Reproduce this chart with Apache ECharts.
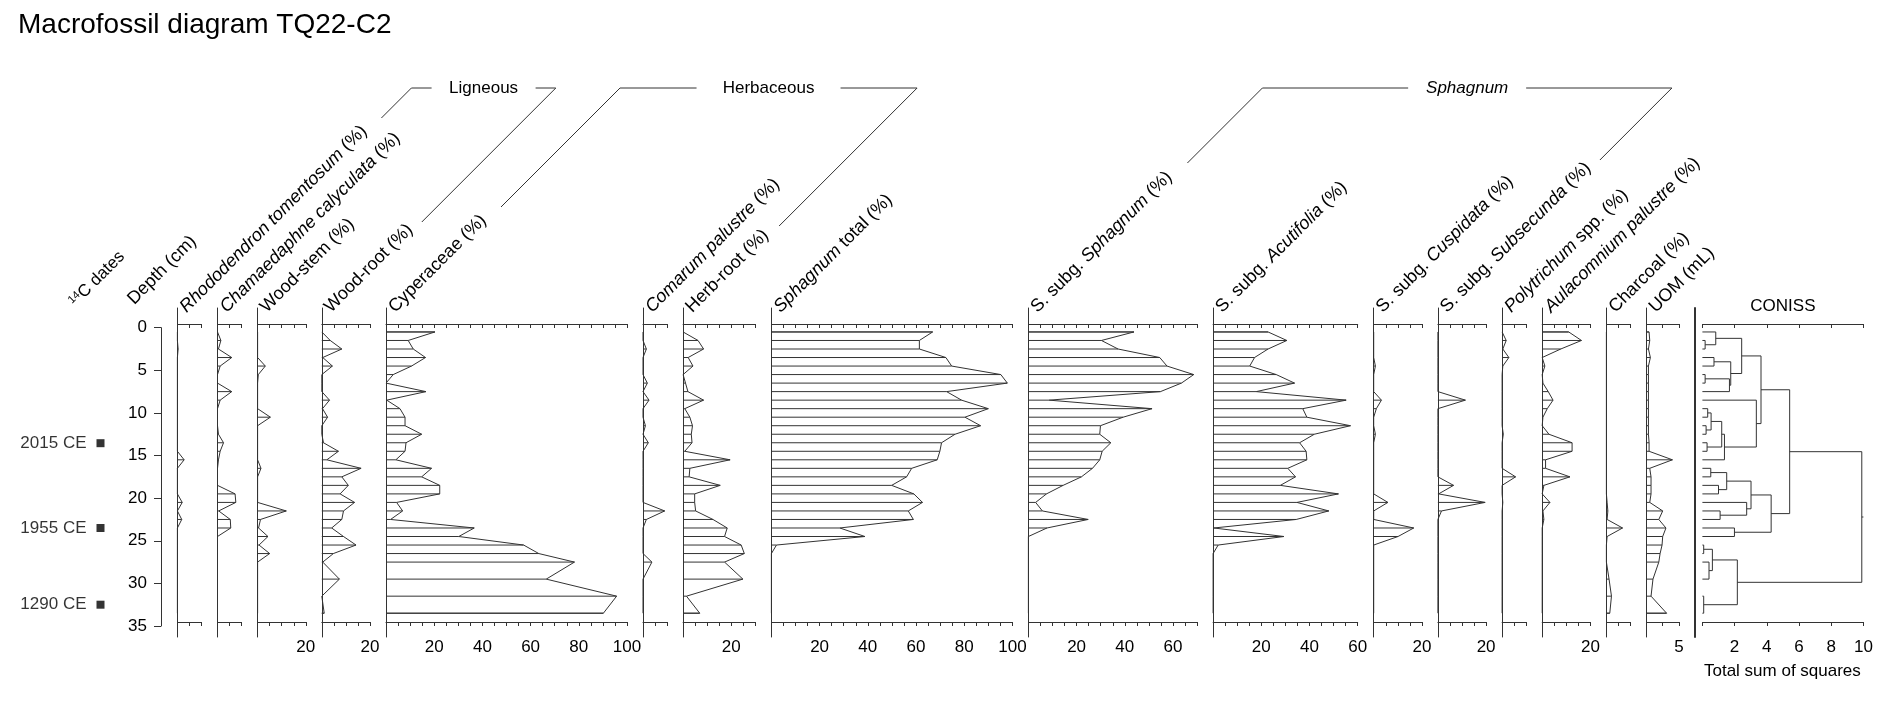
<!DOCTYPE html>
<html>
<head>
<meta charset="utf-8">
<script src="https://cdn.jsdelivr.net/npm/echarts@6/dist/echarts.min.js"></script>
<style>
  html, body { margin: 0; padding: 0; background: #fff; }
  #chart { width: 1892px; height: 702px; }
</style>
</head>
<body>
<div id="chart"></div>
<script>
// sample depths (cm)
const depths = [0.5, 1.5, 2.5, 3.5, 4.5, 5.5, 6.5, 7.5, 8.5, 9.5, 10.5, 11.5, 12.5, 13.5, 14.5,
  15.5, 16.5, 17.5, 18.5, 19.5, 20.5, 21.5, 22.5, 23.5, 24.5, 25.5, 26.5, 27.5, 29.5, 31.5, 33.5];

const rhododendron = [0, 0, 0.3, 0, 0, 0, 0, 0, 0, 0, 0, 0, 0, 0, 0, 2.8, 0, 0, 0, 0, 2, 0, 1.8, 0, 0, 0, 0, 0, 0, 0, 0];
const chamaedaphne = [0, 1.4, 0.4, 5.9, 1.1, 0, 0, 5.9, 1.1, 0, 0, 0, 0.4, 2.5, 1.1, 0.4, 0, 0, 0, 7.3, 7.6, 0.5, 5.3, 5.5, 0, 0, 0, 0, 0, 0, 0];
const woodStem = [0, 0, 0, 0, 3.2, 0.3, 0, 0, 0, 0, 5.3, 0, 0, 0, 0, 0, 1.4, 0, 0, 0, 0, 11.9, 1.2, 0.4, 4.3, 0.6, 5, 0, 0, 0, 0];
const woodRoot = [0, 3.5, 8.3, 0.4, 4.4, 0, 0, 0, 3.2, 0.3, 2.4, 0, 0, 0.7, 6.9, 2.1, 16.3, 8.3, 11, 7.6, 13.6, 9, 8.3, 4.1, 9, 14.2, 4.8, 0.4, 7.3, 0, 1];
const cyperaceae = [20.3, 9.2, 11.3, 16.4, 10.6, 3, 0, 16.6, 0.3, 5.8, 7.9, 7.9, 14.8, 8.3, 7.9, 4.1, 18.9, 14.8, 22.3, 22.3, 4.4, 6.9, 1.9, 36.6, 30.2, 57.1, 63.4, 78.2, 66.5, 95.7, 90.2];
const comarum = [0, 0, 1.4, 0, 0, 0, 1.8, 0, 2.5, 0, 0, 1, 0, 2.2, 0, 0, 0, 0, 0, 0, 0, 9, 1.4, 0, 0, 0, 0, 3.7, 0, 0, 0];
const herbRoot = [0, 6.2, 8.5, 2.1, 4.1, 0, 1, 2, 8.5, 0.7, 2.8, 3.9, 3.4, 3.7, 0.7, 19.5, 2.8, 2.5, 15.4, 4.8, 4.8, 5.2, 12.4, 18.3, 17.2, 24.1, 25.4, 17.2, 24.8, 1.4, 6.9];
const sphagnumTotal = [66.9, 61.4, 61.4, 72.4, 74.8, 95.2, 97.9, 72.7, 78.9, 90, 80.3, 86.8, 76.2, 70.6, 69.9, 68.8, 58.2, 56.1, 49.9, 59.1, 62.7, 56.8, 58.9, 28.4, 38.8, 2.1, 0, 0, 0, 0, 0];
const subgSphagnum = [43.8, 30.3, 37.2, 54.5, 57.5, 68.6, 63.5, 54.8, 8.6, 51.3, 39.3, 29.9, 29.6, 34.2, 30.6, 29.6, 26.6, 22, 14.4, 7.5, 3, 5.8, 24.8, 7.7, 0, 0, 0, 0, 0, 0, 0];
const acutifolia = [22.8, 30.6, 22.8, 17.2, 15.2, 26.2, 33.8, 17.9, 55.2, 37.2, 38.9, 57, 42, 35.9, 38.6, 38.9, 31, 34.2, 27.9, 52, 34.8, 48, 34.5, 0.3, 29.4, 2.1, 0, 0, 0, 0, 0];
const cuspidata = [0, 0, 0, 0, 0.7, 0, 0, 0, 3.2, 1.1, 0, 0, 0.7, 0, 0, 0, 0, 0, 0, 0, 5.9, 0, 0, 16.6, 10.1, 0, 0, 0, 0, 0, 0];
const subsecunda = [0, 0, 0, 0, 0, 0, 0, 0, 11.4, 0, 0, 0, 0, 0, 0, 0, 0, 0, 6.5, 0.3, 19.6, 1.5, 0, 0, 0, 0, 0, 0, 0, 0, 0];
const polytrichum = [0, 1.7, 0.3, 2.8, 0.3, 0, 0, 0, 0, 0, 0, 0, 0.5, 0, 0, 0, 0, 5.6, 0, 0, 0.3, 0, 0, 0, 0, 0, 0, 0, 0, 0, 0];
const aulacomnium = [11, 16.3, 7.7, 0, 1.1, 0, 0.3, 2.5, 4.5, 2.1, 0.3, 0, 2.8, 12.4, 12.4, 1.4, 1.4, 11.5, 0.7, 0, 3.2, 0.3, 0.7, 0, 0, 0, 0, 0, 0, 0, 0];
const charcoal = [0, 0, 0, 0, 0, 0, 0, 0, 0, 0, 0, 0, 0, 0, 0, 0, 0, 0, 0, 0, 0.3, 0.6, 0.3, 6.7, 0.3, 0, 0, 0, 1.1, 2.1, 1.4];
const uom = [0.4, 0.5, 0.3, 0.6, 0.3, 0.3, 0.3, 0.3, 0.3, 0.3, 0.3, 0.3, 0.3, 0.4, 0.4, 4.0, 0.5, 0.7, 0.7, 0.7, 0.5, 2.5, 1.9, 3.0, 2.5, 2.4, 2.1, 1.9, 1.0, 0.7, 3.1];

// radiocarbon dates
const dateDepths = [13.55, 23.5, 32.5];
const dateLabels = ['2015 CE', '1955 CE', '1290 CE'];

// CONISS merges (hclust style: negative = sample number, positive = earlier merge row), height
const conissMerge = [
  [-26, -27, 0.08], [-30, -31, 0.08], [-2, -3, 0.17], [-6, -7, 0.17], [-12, -13, 0.23],
  [-14, -15, 0.29], [-10, -11, 0.33], [-28, -29, 0.41], [-17, -18, 0.52], [7, 5, 0.54],
  [1, 8, 0.62], [-4, -5, 0.72], [-1, 3, 0.83], [-19, -20, 1.0], [-22, -23, 1.1],
  [10, 6, 1.2], [16, -16, 1.37], [9, 14, 1.51], [4, -8, 1.68], [12, 19, 1.76],
  [-24, -25, 1.99], [11, 2, 2.17], [13, 20, 2.44], [-21, 15, 2.75], [18, 24, 3.02],
  [-9, 17, 3.35], [23, 26, 3.64], [25, 21, 4.27], [27, 28, 5.42], [29, 22, 9.9]
];

const panels = [
  { label: '{i|Rhododendron tomentosum} (%)', values: rhododendron, max: 10, tick: 5 },
  { label: '{i|Chamaedaphne calyculata} (%)', values: chamaedaphne, max: 10, tick: 5 },
  { label: 'Wood-stem (%)', values: woodStem, max: 20, tick: 5 },
  { label: 'Wood-root (%)', values: woodRoot, max: 20, tick: 5 },
  { label: 'Cyperaceae (%)', values: cyperaceae, max: 100, tick: 5 },
  { label: '{i|Comarum palustre} (%)', values: comarum, max: 10, tick: 5 },
  { label: 'Herb-root (%)', values: herbRoot, max: 30, tick: 5 },
  { label: '{i|Sphagnum} total (%)', values: sphagnumTotal, max: 100, tick: 5 },
  { label: 'S. subg. {i|Sphagnum} (%)', values: subgSphagnum, max: 70, tick: 5 },
  { label: 'S. subg. {i|Acutifolia} (%)', values: acutifolia, max: 60, tick: 5 },
  { label: 'S. subg. {i|Cuspidata} (%)', values: cuspidata, max: 20, tick: 5 },
  { label: 'S. subg. {i|Subsecunda} (%)', values: subsecunda, max: 20, tick: 5 },
  { label: '{i|Polytrichum} spp. (%)', values: polytrichum, max: 10, tick: 5 },
  { label: '{i|Aulacomnium palustre} (%)', values: aulacomnium, max: 20, tick: 5 },
  { label: 'Charcoal (%)', values: charcoal, max: 10, tick: 5 },
  { label: 'UOM (mL)', values: uom, max: 5, tick: 2.5, px: 32.4 }
];

const groups = [
  { text: 'Ligneous', first: 0, last: 3, legLeft: 118, legRight: 222, half: 36 },
  { text: 'Herbaceous', first: 4, last: 6, legLeft: 207, legRight: 226, half: 56 },
  { text: '{i|Sphagnum}', first: 8, last: 11, legLeft: 163, legRight: 160, half: 43 }
];

// ---- layout ----
const FONT = '"Liberation Sans", Arial, sans-serif';
const INK = '#333';
const TOP = 308, H = 329;
const DEPTH0_Y = 327.7, PX_CM = 298.3 / 35;
const yMin = -(DEPTH0_Y - TOP) / PX_CM;
const yMax = yMin + H / PX_CM;
const PX_PCT = 2.41, GAP = 16;

let cursor = 177.4;
panels.forEach(p => {
  p.left = cursor;
  p.width = p.px || p.max * PX_PCT;
  cursor += p.width + GAP;
});
const sepX = cursor;
const conissLeft = sepX + 7.5;

const grid = [], xAxis = [], yAxis = [], series = [], graphic = [];
const hidden = { show: false };

function panelAxes(gi, max, tick, fmt) {
  xAxis.push({
    gridIndex: gi, type: 'value', position: 'top', offset: -16, min: 0, max: max, interval: tick,
    axisLine: { show: true, onZero: false, lineStyle: { color: INK } },
    axisTick: { show: true, inside: true, length: 4, lineStyle: { color: INK } },
    axisLabel: hidden, splitLine: hidden
  });
  xAxis.push({
    gridIndex: gi, type: 'value', position: 'bottom', offset: -15, min: 0, max: max, interval: tick,
    axisLine: { show: true, onZero: false, lineStyle: { color: INK } },
    axisTick: { show: true, length: 4, lineStyle: { color: INK } },
    axisLabel: { fontSize: 17, fontFamily: FONT, color: '#000', margin: 17, formatter: fmt },
    splitLine: hidden
  });
}

// depth axis
let gi = 0;
grid.push({ left: 161, top: DEPTH0_Y, width: 1, height: 35 * PX_CM });
xAxis.push({ gridIndex: gi, type: 'value', show: false, min: 0, max: 1 });
yAxis.push({
  gridIndex: gi, type: 'value', inverse: true, min: 0, max: 35, interval: 5,
  axisLine: { show: true, onZero: false, lineStyle: { color: INK } },
  axisTick: { show: true, length: 7, lineStyle: { color: INK } },
  axisLabel: { fontSize: 17, fontFamily: FONT, color: '#000', margin: 14 },
  splitLine: hidden
});

// dates
gi = 1;
grid.push({ left: 96.5, top: DEPTH0_Y, width: 8, height: 35 * PX_CM });
xAxis.push({ gridIndex: gi, type: 'value', show: false, min: 0, max: 1 });
yAxis.push({ gridIndex: gi, type: 'value', show: false, inverse: true, min: 0, max: 35 });
series.push({
  type: 'scatter', xAxisIndex: 1, yAxisIndex: 1, symbol: 'rect', symbolSize: 8,
  itemStyle: { color: '#000' }, silent: true,
  data: dateDepths.map(d => [0.5, d]),
  label: {
    show: true, position: 'left', distance: 10, color: '#000', fontSize: 17, fontFamily: FONT,
    formatter: p => dateLabels[p.dataIndex]
  }
});

const pctFmt = v => (v > 0 && v % 20 === 0) ? String(v) : '';

panels.forEach((p, k) => {
  const g = grid.length;
  grid.push({ left: p.left, top: TOP, width: p.width, height: H });
  yAxis.push({
    gridIndex: g, type: 'value', inverse: true, min: yMin, max: yMax,
    axisLine: { show: true, onZero: false, lineStyle: { color: INK } },
    axisTick: hidden, axisLabel: hidden, splitLine: hidden
  });
  const xi = xAxis.length;
  panelAxes(g, p.max, p.tick, p.max === 5 ? (v => v === 5 ? '5' : '') : pctFmt);
  const pts = p.values.map((v, j) => [v, depths[j]]);
  series.push({
    type: 'line', xAxisIndex: xi + 1, yAxisIndex: g, symbol: 'none', silent: true,
    lineStyle: { color: INK, width: 1 },
    data: [[0, depths[0]]].concat(pts, [[0, depths[depths.length - 1]]])
  });
  series.push({
    type: 'custom', xAxisIndex: xi + 1, yAxisIndex: g, silent: true,
    data: pts, encode: { x: 0, y: 1 },
    renderItem: (params, api) => {
      const a = api.coord([0, api.value(1)]);
      const b = api.coord([api.value(0), api.value(1)]);
      return {
        type: 'line',
        shape: { x1: a[0], y1: a[1], x2: b[0], y2: b[1] },
        style: { stroke: INK, lineWidth: 1 }
      };
    }
  });
  graphic.push({
    type: 'text', x: p.left + 12, y: 316, rotation: Math.PI / 4, silent: true,
    style: {
      text: p.label, fontSize: 18, fontFamily: FONT, fill: '#000',
      align: 'left', verticalAlign: 'bottom',
      rich: { i: { fontStyle: 'italic', fontSize: 18, fontFamily: FONT } }
    }
  });
});

// CONISS
const cg = grid.length;
grid.push({ left: conissLeft, top: TOP, width: 161, height: H });
yAxis.push({
  gridIndex: cg, type: 'value', inverse: true, min: yMin, max: yMax, offset: conissLeft - sepX,
  axisLine: { show: true, onZero: false, lineStyle: { color: INK, width: 2 } },
  axisTick: hidden, axisLabel: hidden, splitLine: hidden
});
const cx = xAxis.length;
panelAxes(cg, 10, 2, v => v > 0 ? String(v) : '');

const nodeY = [];
const segs = [];
function nodePos(id) {
  return id < 0 ? [0, depths[-id - 1]] : [conissMerge[id - 1][2], nodeY[id - 1]];
}
conissMerge.forEach((m, k) => {
  const a = nodePos(m[0]), b = nodePos(m[1]);
  nodeY[k] = (a[1] + b[1]) / 2;
  segs.push({ coords: [a, [m[2], a[1]], [m[2], b[1]], b] });
});
const root = conissMerge.length - 1;
segs.push({ coords: [[conissMerge[root][2], nodeY[root]], [10, nodeY[root]]] });
series.push({
  type: 'lines', coordinateSystem: 'cartesian2d', xAxisIndex: cx + 1, yAxisIndex: cg,
  polyline: true, silent: true, lineStyle: { color: INK, width: 1, opacity: 1 },
  data: segs
});

// ---- texts ----
graphic.push({
  type: 'text', x: 18, y: 25.5, silent: true,
  style: { text: 'Macrofossil diagram TQ22-C2', fontSize: 28, fontFamily: FONT, fill: '#000', verticalAlign: 'middle' }
});
graphic.push({
  type: 'text', x: 78, y: 310, rotation: Math.PI / 4, silent: true,
  style: {
    text: '{sup|14}C dates', fontSize: 17, fontFamily: FONT, fill: '#000', verticalAlign: 'bottom',
    rich: { sup: { fontSize: 11, fontFamily: FONT, verticalAlign: 'top' } }
  }
});
graphic.push({
  type: 'text', x: 137, y: 308, rotation: Math.PI / 4, silent: true,
  style: { text: 'Depth (cm)', fontSize: 18, fontFamily: FONT, fill: '#000', verticalAlign: 'bottom' }
});
graphic.push({
  type: 'text', x: conissLeft + 80.5, y: 306, silent: true,
  style: { text: 'CONISS', fontSize: 17, fontFamily: FONT, fill: '#000', align: 'center', verticalAlign: 'middle' }
});
graphic.push({
  type: 'text', x: conissLeft + 80, y: 671, silent: true,
  style: { text: 'Total sum of squares', fontSize: 17, fontFamily: FONT, fill: '#000', align: 'center', verticalAlign: 'middle' }
});

// group brackets, legs run along the 45 degree label lines
const HY = 88;
const along = (k, y) => panels[k].left + 14 + (308 - y);
groups.forEach(g => {
  const xl = along(g.first, HY), xr = along(g.last, HY);
  const mid = (xl + xr) / 2;
  graphic.push({
    type: 'polyline', silent: true,
    shape: { points: [[along(g.first, g.legLeft), g.legLeft], [xl, HY], [mid - g.half - 16, HY]] },
    style: { stroke: INK, lineWidth: 1, fill: null }
  });
  graphic.push({
    type: 'polyline', silent: true,
    shape: { points: [[mid + g.half + 16, HY], [xr, HY], [along(g.last, g.legRight), g.legRight]] },
    style: { stroke: INK, lineWidth: 1, fill: null }
  });
  graphic.push({
    type: 'text', x: mid, y: HY, silent: true,
    style: {
      text: g.text, fontSize: 17, fontFamily: FONT, fill: '#000', align: 'center', verticalAlign: 'middle',
      rich: { i: { fontStyle: 'italic', fontSize: 17, fontFamily: FONT } }
    }
  });
});

const chart = echarts.init(document.getElementById('chart'));
chart.setOption({
  animation: false,
  backgroundColor: '#fff',
  grid: grid,
  xAxis: xAxis,
  yAxis: yAxis,
  series: series,
  graphic: graphic
});
</script>
</body>
</html>
